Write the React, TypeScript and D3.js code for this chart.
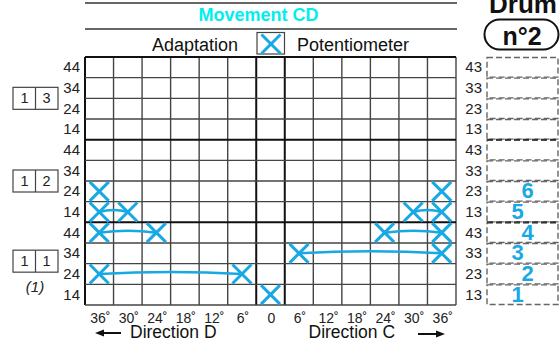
import React from "react";
import * as d3 from "d3";

const angles = [-36, -30, -24, -18, -12, -6, 0, 6, 12, 18, 24, 30, 36];
const angleLabels = ["36˚", "30˚", "24˚", "18˚", "12˚", "6˚", "0", "6˚", "12˚", "18˚", "24˚", "30˚", "36˚"];
const leftRowLabels = ["44", "34", "24", "14"];
const rightRowLabels = ["43", "33", "23", "13"];
const groupCodes = [["1", "3"], ["1", "2"], ["1", "1"]];
const rowCount = 12;

// crosses: angle column + row index (0 = top)
const crossAngle = [-36, -36, -30, -36, -24, -36, -6, 0, 6, 36, 24, 36, 30, 36, 36];
const crossRow = [6, 7, 7, 8, 8, 10, 10, 11, 9, 9, 8, 8, 7, 7, 6];
const links = [[1, 2], [3, 4], [5, 6], [8, 9], [10, 11], [12, 13]];

const drumLabels = ["1", "2", "3", "4", "5", "6"];
const drumRows = [11, 10, 9, 8, 7, 6];

const BLUE = "#18a8e4";
const CYAN = "#00eef0";
const FONT = "'Liberation Sans', Arial, sans-serif";

export default function App() {
  const W = 560, H = 340;
  const x = d3.scaleBand<number>().domain(angles).range([85, 456]);
  const y = d3.scaleBand<number>().domain(d3.range(rowCount)).range([57, 305]);
  const cx = (a: number) => (x(a) as number) + x.bandwidth() / 2;
  const cy = (r: number) => (y(r) as number) + y.bandwidth() / 2;
  const x0 = 85, x1 = 456, y0 = 57, y1 = 305;
  const boxX0 = 487, boxX1 = 558;
  const cs = 9.5;

  const cross = (px: number, py: number, k: string | number) => (
    <g key={k} stroke={BLUE} strokeWidth={3} strokeLinecap="butt">
      <line x1={px - cs} y1={py - cs} x2={px + cs} y2={py + cs} />
      <line x1={px - cs} y1={py + cs} x2={px + cs} y2={py - cs} />
    </g>
  );

  const vLines = d3.range(angles.length + 1).map((i) => x0 + i * x.bandwidth());
  const hLines = d3.range(rowCount + 1).map((i) => y0 + i * y.bandwidth());

  return (
    <svg width={W} height={H} style={{ position: "absolute", left: 0, top: 0, fontFamily: FONT }}>
      <rect width={W} height={H} fill="#fff" />
      {/* header */}
      <line x1={x0} x2={457} y1={3} y2={3} stroke="#333" strokeWidth={1.5} />
      <line x1={x0} x2={457} y1={29} y2={29} stroke="#333" strokeWidth={1.5} />
      <text x={258.5} y={21} textAnchor="middle" fontWeight="bold" fontSize={18} fill={CYAN}>Movement CD</text>
      <text x={238} y={51} textAnchor="end" fontSize={18} fill="#111">Adaptation</text>
      <rect x={257} y={32.5} width={27.5} height={21.5} fill="#fff" stroke="#444" strokeWidth={1.2} />
      {cross(271, 44, "leg")}
      <text x={297} y={51} fontSize={18} fill="#111">Potentiometer</text>

      {/* Drum */}
      <text x={523} y={13} textAnchor="middle" fontWeight="bold" fontSize={26} fill="#111">Drum</text>
      <rect x={484.5} y={19.5} width={74} height={30} rx={15} ry={15} fill="#fff" stroke="#111" strokeWidth={2} />
      <text x={522} y={45} textAnchor="middle" fontWeight="bold" fontSize={25} fill="#111">n°2</text>

      {/* grid */}
      {vLines.map((vx, i) => {
        const thick = i === 0 || i === 6 || i === 7;
        return <line key={"v" + i} x1={vx} x2={vx} y1={y0} y2={y1} stroke={thick ? "#111" : "#444"} strokeWidth={thick ? 2 : 1.4} />;
      })}
      {hLines.map((hy, i) => {
        const thick = i === 0 || i === 4 || i === 8;
        return <line key={"h" + i} x1={x0} x2={x1} y1={hy} y2={hy} stroke={thick ? "#111" : "#444"} strokeWidth={thick ? 2 : 1.4} />;
      })}

      {/* left row labels */}
      {d3.range(rowCount).map((r) => (
        <text key={"ll" + r} x={80} y={cy(r) + 5} textAnchor="end" fontSize={15} fill="#222">{leftRowLabels[r % 4]}</text>
      ))}
      {/* right row labels */}
      {d3.range(rowCount).map((r) => (
        <text key={"rl" + r} x={482} y={cy(r) + 5} textAnchor="end" fontSize={15} fill="#222">{rightRowLabels[r % 4]}</text>
      ))}

      {/* drum cells */}
      {d3.range(rowCount).map((r) => (
        <rect key={"dc" + r} x={boxX0} y={(y(r) as number) + 0.5} width={boxX1 - boxX0} height={y.bandwidth() - 1}
          fill="none" stroke="#666" strokeWidth={1.4} strokeDasharray="6,3" />
      ))}
      {[4, 8].map((i) => (
        <line key={"dg" + i} x1={boxX0} x2={boxX1} y1={hLines[i]} y2={hLines[i]} stroke="#333" strokeWidth={2} strokeDasharray="6,3" />
      ))}

      {/* group code boxes */}
      {groupCodes.map((g, gi) => {
        const top = y0 + gi * 4 * y.bandwidth();
        const mid = top + 2 * y.bandwidth() - (gi === 2 ? 2.5 : 0);
        return (
          <g key={"gc" + gi}>
            <rect x={13} y={mid - 11} width={45} height={22} fill="#fff" stroke="#444" strokeWidth={1.2} />
            <line x1={35.5} x2={35.5} y1={mid - 11} y2={mid + 11} stroke="#444" strokeWidth={1.2} />
            <text x={24.5} y={mid + 5} textAnchor="middle" fontSize={14.5} fill="#222">{g[0]}</text>
            <text x={46.5} y={mid + 5} textAnchor="middle" fontSize={14.5} fill="#222">{g[1]}</text>
          </g>
        );
      })}
      <text x={35} y={292} textAnchor="middle" fontSize={15} fontStyle="italic" fill="#222">(1)</text>

      {/* x labels */}
      {angles.map((a, i) => (
        <text key={"xl" + i} x={cx(a) + 1} y={323} textAnchor="middle" fontSize={14} fill="#222">{angleLabels[i]}</text>
      ))}
      <text x={130} y={337.5} fontSize={17.5} fill="#111">Direction D</text>
      <line x1={101} x2={121} y1={333} y2={333} stroke="#111" strokeWidth={2} />
      <path d="M95,333 L104,329.5 L104,336.5 Z" fill="#111" />
      <text x={308.5} y={337.5} fontSize={17.5} fill="#111">Direction C</text>
      <line x1={418} x2={439} y1={334} y2={334} stroke="#111" strokeWidth={2} />
      <path d="M445,334 L436,330.5 L436,337.5 Z" fill="#111" />

      {/* links */}
      {links.map(([a, b], i) => {
        const ax = cx(crossAngle[a]), ay = cy(crossRow[a]);
        const bx = cx(crossAngle[b]), by = cy(crossRow[b]);
        const path = d3.path();
        path.moveTo(ax, ay);
        path.quadraticCurveTo((ax + bx) / 2, Math.min(ay, by) - 4, bx, by);
        return <path key={"lk" + i} d={path.toString()} fill="none" stroke={BLUE} strokeWidth={2.5} />;
      })}
      {crossAngle.map((a, i) => cross(cx(a), cy(crossRow[i]), "c" + i))}

      {/* drum numbers */}
      {drumLabels.map((t, i) => (
        <text key={"dn" + i} x={522.5 + (i % 2 ? 5 : -5)} y={cy(drumRows[i]) + 7} textAnchor="middle"
          fontWeight="bold" fontSize={22} fill={BLUE}>{t}</text>
      ))}
    </svg>
  );
}
